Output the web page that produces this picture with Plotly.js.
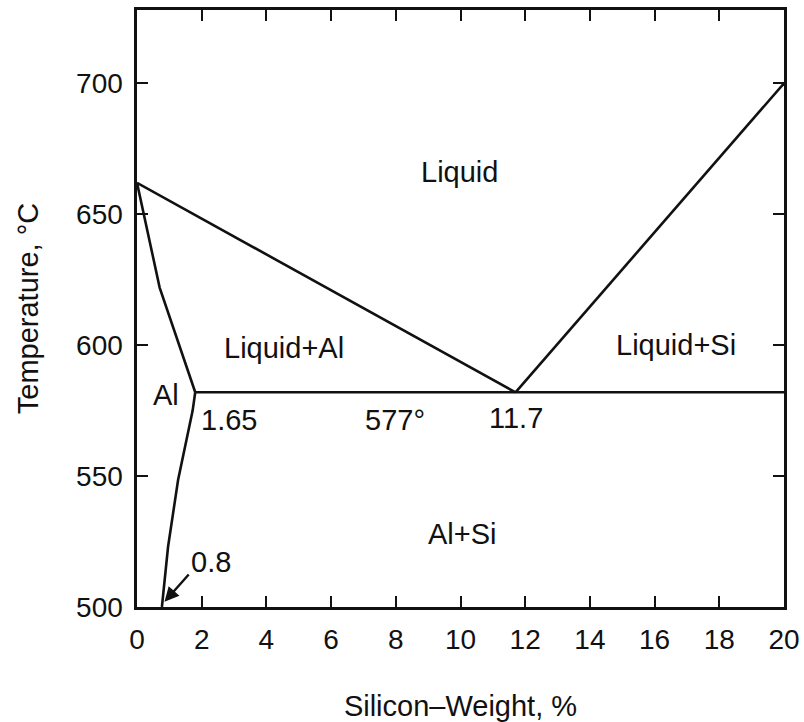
<!DOCTYPE html>
<html>
<head>
<meta charset="utf-8">
<script src="https://cdn.plot.ly/plotly-3.0.1.min.js"></script>
<style>html,body{margin:0;padding:0;background:#fff;}#chart{width:804px;height:722px;}</style>
</head>
<body>
<div id="chart"></div>
<script>
// Boundary lines of the Al–Si phase diagram (wt% Si, °C)
const liquidusAlX = [0, 11.7];
const liquidusAlT = [662, 582];
const liquidusSiX = [11.7, 20];
const liquidusSiT = [582, 700];
const solidusX = [0, 0.7, 1.8];
const solidusT = [662, 622, 582];
const solvusX = [1.8, 1.72, 1.27, 0.96, 0.77];
const solvusT = [582, 575, 548.5, 523, 500];
const eutecticX = [1.8, 20];
const eutecticT = [582, 582];

// Region / value labels
const labelText = ["Liquid", "Liquid+Al", "Liquid+Si", "Al", "1.65", "577°", "11.7", "Al+Si"];
const labelX = [9.98, 4.54, 16.66, 0.9, 2.84, 7.98, 11.72, 10.05];
const labelT = [666, 599, 600, 581, 571.3, 571.3, 572, 528];

const xTicks = [0, 2, 4, 6, 8, 10, 12, 14, 16, 18, 20];
const yTicks = [500, 550, 600, 650, 700];

const FONT = "Liberation Sans, Arial, Helvetica, sans-serif";
const lineStyle = {color: "#111", width: 2.6};

const traces = [
  [liquidusAlX, liquidusAlT], [liquidusSiX, liquidusSiT], [solidusX, solidusT],
  [solvusX, solvusT], [eutecticX, eutecticT]
].map(([x, y]) => ({x, y, mode: "lines", line: lineStyle, hoverinfo: "skip", showlegend: false, cliponaxis: false}));

const annotations = labelText.map((t, i) => ({
  x: labelX[i], y: labelT[i], xref: "x", yref: "y", text: t, showarrow: false,
  font: {family: FONT, size: 29, color: "#111"}
}));
annotations.push({
  x: 0.85, y: 502, xref: "x", yref: "y", ax: 1.64, ay: 513, axref: "x", ayref: "y",
  text: "", showarrow: true, arrowhead: 2, arrowsize: 1.2, arrowwidth: 2.4, arrowcolor: "#111"
});
annotations.push({
  x: 2.29, y: 517, xref: "x", yref: "y", text: "0.8", showarrow: false,
  font: {family: FONT, size: 29, color: "#111"}
});

const axisCommon = {
  showgrid: false, zeroline: false, showline: true, linecolor: "#111", linewidth: 2.6,
  mirror: "ticks", ticks: "inside", ticklen: 11, tickwidth: 2, tickcolor: "#111",
  tickfont: {family: FONT, size: 28, color: "#111"}, automargin: false
};

const layout = {
  width: 804, height: 722,
  margin: {l: 137, r: 20, t: 10, b: 115},
  paper_bgcolor: "#fff", plot_bgcolor: "#fff",
  showlegend: false,
  xaxis: Object.assign({}, axisCommon, {
    range: [0, 20], tickvals: xTicks, ticktext: xTicks.map(String),
    ticklabelstandoff: 6,
    title: {text: "Silicon–Weight, %", font: {family: FONT, size: 29, color: "#111"}, standoff: 42}
  }),
  yaxis: Object.assign({}, axisCommon, {
    range: [500, 728], tickvals: yTicks, ticktext: yTicks.map(String),
    ticklabelstandoff: 6,
    title: {text: "Temperature, °C", font: {family: FONT, size: 29, color: "#111"}, standoff: 29}
  }),
  annotations: annotations
};

Plotly.newPlot("chart", traces, layout, {displayModeBar: false, staticPlot: true});
</script>
</body>
</html>
